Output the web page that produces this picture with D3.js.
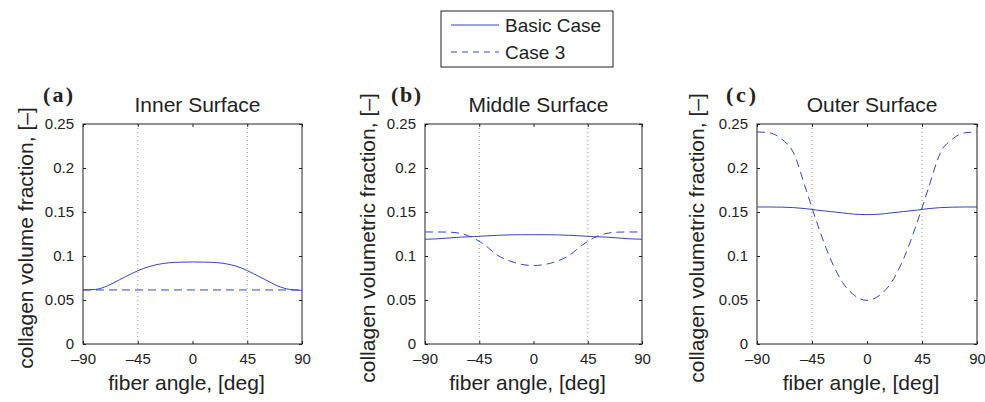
<!DOCTYPE html>
<html>
<head>
<meta charset="utf-8">
<script src="https://cdn.jsdelivr.net/npm/d3@7"></script>
<style>
  body { margin: 0; background: #fff; }
  svg { display: block; }
  text { font-family: "Liberation Sans", Arial, Helvetica, sans-serif; fill: #222; }
</style>
</head>
<body>
<svg id="chart" width="985" height="402"></svg>
<script>
// fiber angle samples, deg
const angles = [-90, -80, -70, -60, -50, -40, -30, -20, -10, 0, 10, 20, 30, 40, 50, 60, 70, 80, 90];

// (a) inner surface
const innerBasic = [0.0615, 0.0620, 0.0660, 0.0730, 0.0800, 0.0860, 0.0900, 0.0922, 0.0930, 0.0932, 0.0930, 0.0925, 0.0905, 0.0865, 0.0800, 0.0730, 0.0660, 0.0620, 0.0610];
const innerCase3 = [0.0614, 0.0614, 0.0614, 0.0614, 0.0614, 0.0614, 0.0614, 0.0614, 0.0614, 0.0614, 0.0614, 0.0614, 0.0614, 0.0614, 0.0614, 0.0614, 0.0614, 0.0614, 0.0614];

// (b) middle surface
const middleBasic = [0.1190, 0.1195, 0.1205, 0.1215, 0.1220, 0.1228, 0.1235, 0.1240, 0.1242, 0.1242, 0.1242, 0.1240, 0.1235, 0.1228, 0.1220, 0.1215, 0.1205, 0.1195, 0.1190];
const middleCase3 = [0.1273, 0.1273, 0.1271, 0.1255, 0.1205, 0.1120, 0.1010, 0.0945, 0.0905, 0.0892, 0.0905, 0.0945, 0.1010, 0.1120, 0.1205, 0.1255, 0.1271, 0.1273, 0.1273];

// (c) outer surface
const outerBasic = [0.1557, 0.1557, 0.1555, 0.1550, 0.1538, 0.1520, 0.1505, 0.1490, 0.1475, 0.1470, 0.1475, 0.1490, 0.1505, 0.1520, 0.1538, 0.1550, 0.1555, 0.1557, 0.1557];
const outerCase3 = [0.2410, 0.2400, 0.2330, 0.2170, 0.1760, 0.1340, 0.0970, 0.0700, 0.0550, 0.0496, 0.0550, 0.0700, 0.0970, 0.1340, 0.1760, 0.2170, 0.2330, 0.2400, 0.2410];

const xTicks = [-90, -45, 0, 45, 90];
const xTickLabels = ["\u201390", "\u201345", "0", "45", "90"];
const yTicks = [0, 0.05, 0.1, 0.15, 0.2, 0.25];
const yTickLabels = ["0", "0.05", "0.1", "0.15", "0.2", "0.25"];
const gridAngles = [-45, 45];

const panelLetters = ["(a)", "(b)", "(c)"];
const panelTitles = ["Inner Surface", "Middle Surface", "Outer Surface"];
const yLabels = ["collagen volume fraction, [\u2013]", "collagen volumetric fraction, [\u2013]", "collagen volumetric fraction, [\u2013]"];
const xLabel = "fiber angle, [deg]";
const seriesNames = ["Basic Case", "Case 3"];

const basicSeries = [innerBasic, middleBasic, outerBasic];
const case3Series = [innerCase3, middleCase3, outerCase3];

const svg = d3.select("#chart");
const lineColor = "#3446bd";
const dash = "8,5";

// plot boxes (left/right edges), shared top/bottom
const boxes = [[83, 302], [425, 642], [757, 977]];
const plotTop = 124, plotBottom = 344;
// text placement per panel: letter x, y-label baseline x
const letterX = [43, 391, 726];
const yLabelX = [33, 375, 704];

boxes.forEach(([left, right], i) => {
    const x = d3.scaleLinear().domain([-90, 90]).range([left, right]);
    const y = d3.scaleLinear().domain([0, 0.25]).range([plotBottom, plotTop]);
    const g = svg.append("g");

    g.append("clipPath").attr("id", "clip" + i)
        .append("rect").attr("x", left).attr("y", plotTop)
        .attr("width", right - left).attr("height", plotBottom - plotTop);

    // dotted grid at +-45
    g.selectAll(".grid").data(gridAngles).join("line")
        .attr("x1", d => x(d)).attr("x2", d => x(d))
        .attr("y1", plotTop).attr("y2", plotBottom)
        .attr("stroke", "#9a9a9a").attr("stroke-width", 1)
        .attr("stroke-dasharray", "1,3");

    // axes with inward ticks on all four sides
    const tl = 3;
    g.append("g").attr("transform", `translate(0,${plotBottom})`)
        .call(d3.axisBottom(x).tickValues(xTicks).tickSize(-tl).tickPadding(tl + 6)
            .tickFormat((d, k) => xTickLabels[k]))
        .call(a => a.select(".domain").remove())
        .selectAll("text").style("font-size", "15px");
    g.append("g").attr("transform", `translate(0,${plotTop})`)
        .call(d3.axisTop(x).tickValues(xTicks).tickSize(-tl).tickFormat(""))
        .call(a => a.select(".domain").remove());
    g.append("g").attr("transform", `translate(${left},0)`)
        .call(d3.axisLeft(y).tickValues(yTicks).tickSize(-tl).tickPadding(tl + 6)
            .tickFormat((d, k) => yTickLabels[k]))
        .call(a => a.select(".domain").remove())
        .selectAll("text").style("font-size", "15px");
    g.append("g").attr("transform", `translate(${right},0)`)
        .call(d3.axisRight(y).tickValues(yTicks).tickSize(-tl).tickFormat(""))
        .call(a => a.select(".domain").remove());
    g.selectAll(".tick line").attr("stroke", "#222");

    // box
    g.append("rect").attr("x", left).attr("y", plotTop)
        .attr("width", right - left).attr("height", plotBottom - plotTop)
        .attr("fill", "none").attr("stroke", "#222").attr("stroke-width", 1);

    const line = d3.line()
        .x((d, k) => x(angles[k])).y(d => y(d))
        .curve(d3.curveMonotoneX);

    g.append("path").datum(basicSeries[i])
        .attr("d", line).attr("fill", "none")
        .attr("stroke", lineColor).attr("stroke-width", 1)
        .attr("clip-path", `url(#clip${i})`);
    g.append("path").datum(case3Series[i])
        .attr("d", line).attr("fill", "none")
        .attr("stroke", lineColor).attr("stroke-width", 1)
        .attr("stroke-dasharray", dash)
        .attr("clip-path", `url(#clip${i})`);

    // panel letter and title
    g.append("text").attr("x", letterX[i]).attr("y", 102)
        .style("font-family", "'Liberation Serif', 'Times New Roman', serif")
        .style("font-weight", "bold").style("font-size", "22px")
        .attr("textLength", 30).attr("lengthAdjust", "spacing")
        .text(panelLetters[i]);
    g.append("text").attr("x", (left + right) / 2 + 5).attr("y", 112)
        .attr("text-anchor", "middle").style("font-size", "21px")
        .text(panelTitles[i]);

    // axis labels
    g.append("text").attr("x", (left + right) / 2 - 6).attr("y", 390)
        .attr("text-anchor", "middle").style("font-size", "21px")
        .text(xLabel);
    g.append("text")
        .attr("transform", `translate(${yLabelX[i]},238) rotate(-90)`)
        .attr("text-anchor", "middle").style("font-size", "21px")
        .text(yLabels[i]);
});

// legend
const legend = svg.append("g").attr("transform", "translate(441,11)");
legend.append("rect").attr("width", 172).attr("height", 56)
    .attr("fill", "#fff").attr("stroke", "#222").attr("stroke-width", 1);
seriesNames.forEach((name, k) => {
    const row = legend.append("g").attr("transform", `translate(0,${14 + k * 27})`);
    row.append("line").attr("x1", 10).attr("x2", 58).attr("y1", 0).attr("y2", 0)
        .attr("stroke", lineColor).attr("stroke-width", 1)
        .attr("stroke-dasharray", k === 1 ? "6,5" : null);
    row.append("text").attr("x", 64).attr("y", 7).style("font-size", "19px").text(name);
});
</script>
</body>
</html>
